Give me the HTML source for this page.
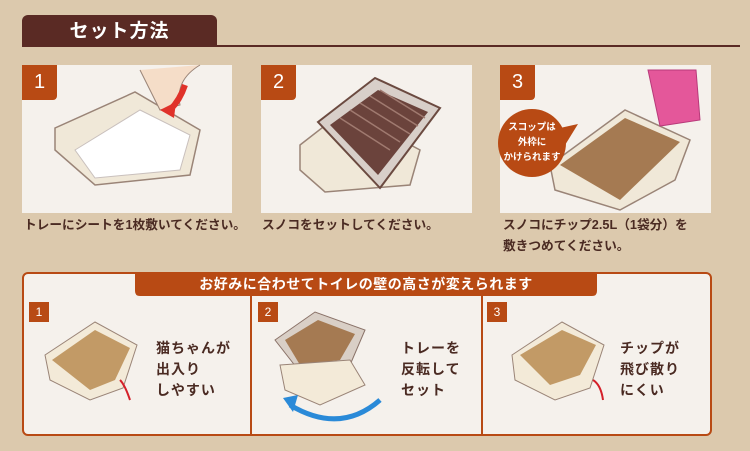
<!DOCTYPE html>
<html><head><meta charset="utf-8"><style>
body{margin:0;width:750px;height:451px;background:#dcc9ad;position:relative;overflow:hidden;font-family:"Liberation Sans","Noto Sans CJK JP",sans-serif;color:#4a2a22}
.a{position:absolute}
.panel{background:#f5f1ec;}
.badge{background:#b84a14;color:#fff;font-size:20px;text-align:center;line-height:35px;width:35px;height:35px;border-bottom-right-radius:4px}
.cap{font-size:12.7px;font-weight:bold;line-height:21px;white-space:nowrap}
.sb{background:#b84a14;color:#fff;font-size:12px;width:20px;height:20px;text-align:center;line-height:20px}
.t3{font-size:14px;font-weight:bold;line-height:21px;letter-spacing:1px}
</style></head><body>
<div class="a" style="left:22px;top:15px;width:195px;height:32px;background:#5a2a24;border-radius:6px 6px 0 0;color:#fff;font-size:19px;font-weight:bold;text-align:center;line-height:33px;letter-spacing:1px">セット方法</div>
<div class="a" style="left:217px;top:45px;width:523px;height:2px;background:#5a2a24"></div>

<div class="a panel" style="left:22px;top:65px;width:210px;height:148px"></div>
<div class="a panel" style="left:261px;top:65px;width:211px;height:148px"></div>
<div class="a panel" style="left:500px;top:65px;width:211px;height:148px"></div>

<svg class="a" style="left:0;top:0" width="750" height="451">
<polygon points="55,128 135,92 200,130 190,175 95,185 55,150" fill="#f0e8d8" stroke="#9a8477" stroke-width="1.5"/>
<polygon points="75,150 140,110 190,135 180,170 95,178" fill="#fff" stroke="#c9c0bd"/>
<path d="M140,70 q10,20 20,40 l20,-5 q-5,-25 20,-40" fill="#f5ddc8" stroke="#9a8477"/>
<path d="M185,85 q-5,15 -15,25" stroke="#e0322a" stroke-width="6" fill="none"/>
<polygon points="160,110 176,102 174,118" fill="#e0322a"/>
<polygon points="300,145 345,110 420,150 410,185 325,192 300,170" fill="#f0e8d8" stroke="#9a8477" stroke-width="1.5"/>
<polygon points="318,122 375,78 440,108 380,188" fill="#d8cfc9" stroke="#6b4a40" stroke-width="2"/>
<polygon points="330,125 378,90 428,112 378,175" fill="#6b433c"/>
<g stroke="#a07a70" stroke-width="1.5"><line x1="340" y1="118" x2="390" y2="150"/><line x1="350" y1="110" x2="400" y2="142"/><line x1="360" y1="103" x2="410" y2="134"/><line x1="370" y1="96" x2="418" y2="126"/><line x1="380" y1="90" x2="425" y2="118"/></g>
<polygon points="550,165 625,110 690,140 675,180 620,210 555,190" fill="#f0e8d8" stroke="#9a8477" stroke-width="1.5"/>
<polygon points="560,165 625,118 680,142 620,200" fill="#a57a52"/>
<polygon points="648,70 696,70 700,120 660,126" fill="#e4579a" stroke="#b83a7a"/>
<circle cx="532" cy="143" r="34" fill="#b84a14"/>
<polygon points="560,128 578,124 562,150" fill="#b84a14"/>
<rect x="23" y="273" width="688" height="162" rx="5" fill="#f5f1ec" stroke="#b84a14" stroke-width="2"/>
<path d="M135,273 H597 V291 q0,5 -5,5 H140 q-5,0 -5,-5 z" fill="#b84a14"/>
<line x1="251" y1="296" x2="251" y2="435" stroke="#b84a14" stroke-width="2"/>
<line x1="482" y1="296" x2="482" y2="435" stroke="#b84a14" stroke-width="2"/>
<g>
<polygon points="45,355 95,322 137,345 123,388 90,400 50,380" fill="#f3ead8" stroke="#9a8477"/>
<polygon points="52,360 95,330 130,348 115,380 90,390" fill="#c29a66"/>
<path d="M130,400 q-5,-15 -10,-20" stroke="#d4202a" stroke-width="2" fill="none"/>
<polygon points="275,340 315,312 365,330 350,365 300,372" fill="#d9cfc6" stroke="#8a7268"/>
<polygon points="285,340 318,320 355,334 340,360 300,365" fill="#a57a52"/>
<polygon points="280,365 350,360 365,385 320,405 285,390" fill="#f3ead8" stroke="#9a8477"/>
<path d="M290,405 q50,30 90,-5" stroke="#2a8ad8" stroke-width="5" fill="none"/>
<polygon points="283,398 298,395 293,412" fill="#2a8ad8"/>
<polygon points="512,355 562,322 604,345 590,388 555,400 515,380" fill="#f3ead8" stroke="#9a8477"/>
<polygon points="520,355 562,330 596,345 580,375 550,385" fill="#c29a66"/>
<path d="M603,400 q-2,-15 -10,-20" stroke="#d4202a" stroke-width="2" fill="none"/>
</g>
</svg>

<div class="a badge" style="left:22px;top:65px">1</div>
<div class="a badge" style="left:261px;top:65px">2</div>
<div class="a badge" style="left:500px;top:65px">3</div>
<div class="a" style="left:498px;top:120px;width:68px;color:#fff;font-size:9.5px;font-weight:bold;text-align:center;line-height:15px">スコップは<br>外枠に<br>かけられます</div>

<div class="a cap" style="left:24px;top:215px">トレーにシートを1枚敷いてください。</div>
<div class="a cap" style="left:262px;top:215px">スノコをセットしてください。</div>
<div class="a cap" style="left:503px;top:215px">スノコにチップ2.5L（1袋分）を<br>敷きつめてください。</div>

<div class="a" style="left:135px;top:273px;width:462px;height:23px;color:#fff;font-size:14px;font-weight:bold;text-align:center;line-height:23px;letter-spacing:0.5px">お好みに合わせてトイレの壁の高さが変えられます</div>
<div class="a sb" style="left:29px;top:302px">1</div>
<div class="a sb" style="left:258px;top:302px">2</div>
<div class="a sb" style="left:487px;top:302px">3</div>
<div class="a t3" style="left:156px;top:338px">猫ちゃんが<br>出入り<br>しやすい</div>
<div class="a t3" style="left:401px;top:338px">トレーを<br>反転して<br>セット</div>
<div class="a t3" style="left:620px;top:338px">チップが<br>飛び散り<br>にくい</div>
</body></html>
